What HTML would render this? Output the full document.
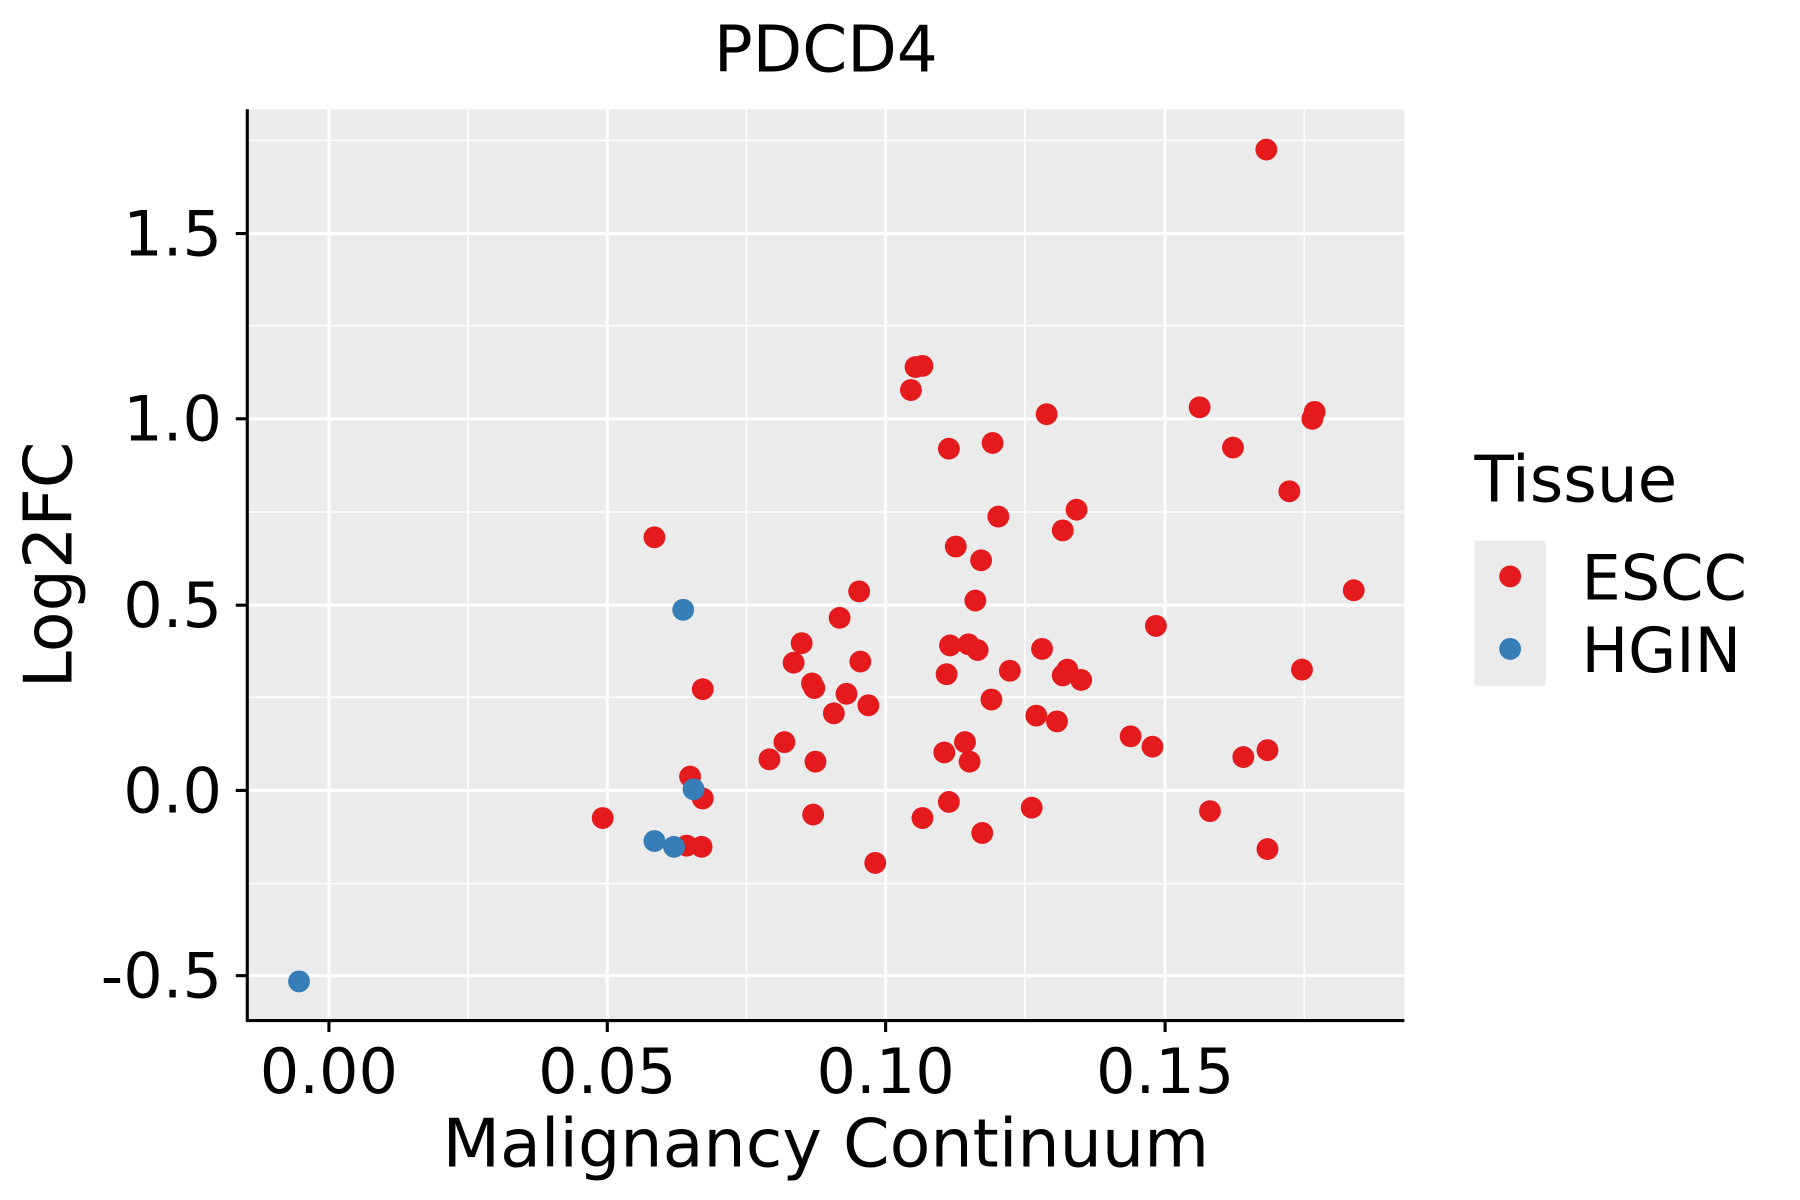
<!DOCTYPE html><html><head><style>body{margin:0;background:#fff}svg{display:block}</style></head><body>
<svg width="1800" height="1200" viewBox="0 0 1565 1043" preserveAspectRatio="none" font-family="DejaVu Sans, Liberation Sans, sans-serif">
<rect x="215" y="95" width="1006" height="792" fill="#ebebeb"/>
<g stroke="#fff" stroke-width="1.3">
<line x1="407" y1="95" x2="407" y2="887"/><line x1="649" y1="95" x2="649" y2="887"/><line x1="891" y1="95" x2="891" y2="887"/><line x1="1134" y1="95" x2="1134" y2="887"/>
<line x1="215" y1="122" x2="1221" y2="122"/><line x1="215" y1="283" x2="1221" y2="283"/><line x1="215" y1="445" x2="1221" y2="445"/><line x1="215" y1="606" x2="1221" y2="606"/><line x1="215" y1="768" x2="1221" y2="768"/>
</g>
<g stroke="#fff" stroke-width="2.7">
<line x1="286" y1="95" x2="286" y2="887"/><line x1="528" y1="95" x2="528" y2="887"/><line x1="770" y1="95" x2="770" y2="887"/><line x1="1013" y1="95" x2="1013" y2="887"/>
<line x1="215" y1="203" x2="1221" y2="203"/><line x1="215" y1="364" x2="1221" y2="364"/><line x1="215" y1="526" x2="1221" y2="526"/><line x1="215" y1="687" x2="1221" y2="687"/><line x1="215" y1="848" x2="1221" y2="848"/>
</g>
<g fill="#e41a1c">
<circle cx="1101" cy="130" r="9.5"/><circle cx="796" cy="319" r="9.5"/><circle cx="802" cy="318" r="9.5"/><circle cx="792" cy="339" r="9.5"/><circle cx="910" cy="360" r="9.5"/><circle cx="1043" cy="354" r="9.5"/><circle cx="1143" cy="358" r="9.5"/><circle cx="1141" cy="364" r="9.5"/><circle cx="825" cy="390" r="9.5"/><circle cx="863" cy="385" r="9.5"/><circle cx="1072" cy="389" r="9.5"/><circle cx="1121" cy="427" r="9.5"/><circle cx="936" cy="443" r="9.5"/><circle cx="868" cy="449" r="9.5"/><circle cx="924" cy="461" r="9.5"/><circle cx="569" cy="467" r="9.5"/><circle cx="831" cy="475" r="9.5"/><circle cx="853" cy="487" r="9.5"/><circle cx="1177" cy="513" r="9.5"/><circle cx="747" cy="514" r="9.5"/><circle cx="848" cy="522" r="9.5"/><circle cx="730" cy="537" r="9.5"/><circle cx="1005" cy="544" r="9.5"/><circle cx="697" cy="559" r="9.5"/><circle cx="826" cy="561" r="9.5"/><circle cx="842" cy="560" r="9.5"/><circle cx="850" cy="565" r="9.5"/><circle cx="906" cy="564" r="9.5"/><circle cx="690" cy="576" r="9.5"/><circle cx="748" cy="575" r="9.5"/><circle cx="1132" cy="582" r="9.5"/><circle cx="878" cy="583" r="9.5"/><circle cx="928" cy="582" r="9.5"/><circle cx="823" cy="586" r="9.5"/><circle cx="924" cy="587" r="9.5"/><circle cx="940" cy="591" r="9.5"/><circle cx="706" cy="594" r="9.5"/><circle cx="708" cy="598" r="9.5"/><circle cx="611" cy="599" r="9.5"/><circle cx="736" cy="603" r="9.5"/><circle cx="862" cy="608" r="9.5"/><circle cx="755" cy="613" r="9.5"/><circle cx="725" cy="620" r="9.5"/><circle cx="901" cy="622" r="9.5"/><circle cx="919" cy="627" r="9.5"/><circle cx="983" cy="640" r="9.5"/><circle cx="682" cy="645" r="9.5"/><circle cx="839" cy="645" r="9.5"/><circle cx="1002" cy="649" r="9.5"/><circle cx="1102" cy="652" r="9.5"/><circle cx="821" cy="654" r="9.5"/><circle cx="1081" cy="658" r="9.5"/><circle cx="669" cy="660" r="9.5"/><circle cx="843" cy="662" r="9.5"/><circle cx="709" cy="662" r="9.5"/><circle cx="600" cy="675" r="9.5"/><circle cx="611" cy="694" r="9.5"/><circle cx="825" cy="697" r="9.5"/><circle cx="897" cy="702" r="9.5"/><circle cx="1052" cy="705" r="9.5"/><circle cx="524" cy="711" r="9.5"/><circle cx="707" cy="708" r="9.5"/><circle cx="802" cy="711" r="9.5"/><circle cx="854" cy="724" r="9.5"/><circle cx="597" cy="735" r="9.5"/><circle cx="610" cy="736" r="9.5"/><circle cx="1102" cy="738" r="9.5"/><circle cx="761" cy="750" r="9.5"/>
</g>
<g fill="#377eb8">
<circle cx="594" cy="530" r="9.5"/><circle cx="603" cy="686" r="9.5"/><circle cx="569" cy="731" r="9.5"/><circle cx="586" cy="736" r="9.5"/><circle cx="260" cy="853" r="9.5"/>
</g>
<g stroke="#000" stroke-width="2.7">
<line x1="215" y1="95" x2="215" y2="888"/><line x1="214" y1="887" x2="1221" y2="887"/>
<line x1="205" y1="203" x2="215" y2="203"/><line x1="205" y1="364" x2="215" y2="364"/><line x1="205" y1="526" x2="215" y2="526"/><line x1="205" y1="687" x2="215" y2="687"/><line x1="205" y1="848" x2="215" y2="848"/>
<line x1="286" y1="887" x2="286" y2="897"/><line x1="528" y1="887" x2="528" y2="897"/><line x1="770" y1="887" x2="770" y2="897"/><line x1="1013" y1="887" x2="1013" y2="897"/>
</g>
<g font-size="54" fill="#000" text-anchor="end">
<text x="193" y="222">1.5</text><text x="193" y="383">1.0</text><text x="193" y="545">0.5</text><text x="193" y="706">0.0</text><text x="193" y="867">-0.5</text>
</g>
<g font-size="54" fill="#000" text-anchor="middle">
<text x="286" y="950">0.00</text><text x="528" y="950">0.05</text><text x="770" y="950">0.10</text><text x="1013" y="950">0.15</text>
<text x="718" y="1014" font-size="58">Malignancy Continuum</text>
<text x="718" y="62" font-size="56">PDCD4</text>
<text transform="translate(62,491) rotate(-90)" font-size="58">Log2FC</text>
</g>
<text x="1282" y="436" font-size="56">Tissue</text>
<rect x="1282" y="470" width="62" height="126" fill="#ebebeb"/>
<circle cx="1313" cy="501" r="9.5" fill="#e41a1c"/><circle cx="1313" cy="564" r="9.5" fill="#377eb8"/>
<text x="1375" y="521" font-size="54">ESCC</text><text x="1375" y="584" font-size="54">HGIN</text>
</svg></body></html>
